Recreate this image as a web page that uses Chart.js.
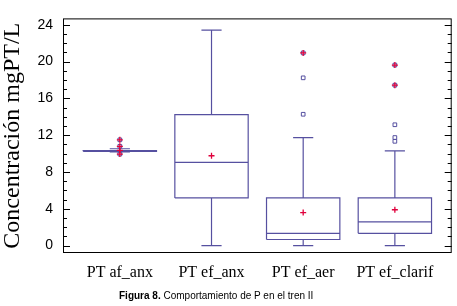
<!DOCTYPE html>
<html>
<head>
<meta charset="utf-8">
<script src="https://cdn.jsdelivr.net/npm/chart.js@4/dist/chart.umd.min.js"></script>
<style>
  html, body { margin: 0; padding: 0; background: #fff; }
  #wrap { position: relative; width: 457px; height: 306px; }
  #caption { position: absolute; left: 119px; top: 290px; font-family: 'Liberation Sans', Arial, sans-serif; font-size: 10px; line-height: 12px; color: #000; white-space: nowrap; }
</style>
</head>
<body>
<div id="wrap">
  <canvas id="c" width="457" height="306"></canvas>
  <div id="caption"><b>Figura 8.</b> Comportamiento de P en el tren II</div>
</div>
<script>
// ---- data ----
const categories = ['PT af_anx', 'PT ef_anx', 'PT ef_aer', 'PT ef_clarif'];
const whiskerLow  = [10.19, 0.0, 0.0, 0.0];
const q1          = [10.25, 5.19, 0.67, 1.34];
const median      = [10.30, 9.04, 1.34, 2.59];
const q3          = [10.33, 14.25, 5.19, 5.19];
const whiskerHigh = [10.53, 23.42, 11.75, 10.29];
const means       = [10.35, 9.77, 3.59, 3.90];
const outliers    = [[], [], [18.24, 14.28], [13.14, 11.75, 11.34]];
const farOutliers = [[11.5, 10.8, 9.95], [], [20.95], [19.63, 17.44]];
const yTicks = [0, 4, 8, 12, 16, 20, 24];

const boxColor = '#5650a0';
const redColor = '#e0003c';

function boxPoints() {
  const pts = [];
  const h = 0.4, cap = 0.11;
  categories.forEach((c, i) => {
    const x = i + 1;
    pts.push({x: x - h, y: q1[i]}, {x: x + h, y: q1[i]}, {x: x + h, y: q3[i]}, {x: x - h, y: q3[i]}, {x: x - h, y: q1[i]}, {x: x, y: null});
    pts.push({x: x - h, y: median[i]}, {x: x + h, y: median[i]}, {x: x, y: null});
    pts.push({x: x, y: q3[i]}, {x: x, y: whiskerHigh[i]}, {x: x, y: null});
    pts.push({x: x - cap, y: whiskerHigh[i]}, {x: x + cap, y: whiskerHigh[i]}, {x: x, y: null});
    pts.push({x: x, y: q1[i]}, {x: x, y: whiskerLow[i]}, {x: x, y: null});
    pts.push({x: x - cap, y: whiskerLow[i]}, {x: x + cap, y: whiskerLow[i]}, {x: x, y: null});
  });
  return pts;
}
const meanPoints = means.map((v, i) => ({x: i + 1, y: v}));
const outPoints = [];
outliers.forEach((arr, i) => arr.forEach(v => outPoints.push({x: i + 1, y: v})));
const farPoints = [];
farOutliers.forEach((arr, i) => arr.forEach(v => farPoints.push({x: i + 1, y: v})));

const framePlugin = {
  id: 'frame',
  afterDraw(chart) {
    const {ctx, chartArea: {left, right, top, bottom}, scales: {y}} = chart;
    ctx.save();
    ctx.strokeStyle = '#000';
    ctx.lineWidth = 1;
    ctx.strokeRect(left + 0.5, top + 0.5, right - left - 1, bottom - top - 1);
    ctx.beginPath();
    for (let v = 0; v <= 24; v++) {
      const py = Math.round(y.getPixelForValue(v)) + 0.5;
      const len = v % 4 === 0 ? 7 : 4;
      ctx.moveTo(left, py); ctx.lineTo(left + len, py);
      ctx.moveTo(right, py); ctx.lineTo(right - len, py);
    }
    ctx.stroke();
    ctx.restore();
  }
};

new Chart(document.getElementById('c'), {
  type: 'scatter',
  data: {
    datasets: [
      { data: farPoints, pointStyle: 'cross', pointRadius: 3, borderColor: redColor, borderWidth: 1.3, showLine: false },
      { data: meanPoints, pointStyle: 'cross', pointRadius: 3, borderColor: redColor, borderWidth: 1.3, showLine: false },
      { data: farPoints, pointStyle: 'rect', pointRadius: 2.6, borderColor: boxColor, backgroundColor: 'rgba(255,255,255,0)', borderWidth: 1, showLine: false },
      { data: outPoints, pointStyle: 'rect', pointRadius: 2.6, borderColor: boxColor, backgroundColor: 'rgba(255,255,255,0)', borderWidth: 1, showLine: false },
      { data: boxPoints(), showLine: true, spanGaps: false, pointRadius: 0, borderColor: boxColor, borderWidth: 1.2, tension: 0 }
    ]
  },
  options: {
    responsive: false,
    devicePixelRatio: 1,
    animation: false,
    layout: { padding: { top: 8, right: 5, left: 0, bottom: 0 } },
    plugins: { legend: { display: false }, tooltip: { enabled: false } },
    scales: {
      x: {
        type: 'linear', min: 0.38, max: 4.62,
        grid: { display: false, drawTicks: false },
        border: { display: false },
        afterBuildTicks: s => { s.ticks = categories.map((c, i) => ({value: i + 1})); },
        afterFit: s => { s.height = 53; },
        ticks: {
          callback: v => categories[v - 1] ?? '',
          font: { family: 'Liberation Serif', size: 16 },
          color: '#000', padding: 10, maxRotation: 0, autoSkip: false
        }
      },
      y: {
        type: 'linear', min: -0.8, max: 24.7,
        grid: { display: false, drawTicks: false },
        border: { display: false },
        afterBuildTicks: s => { s.ticks = yTicks.map(v => ({value: v})); },
        afterFit: s => { s.width = 63; },
        ticks: {
          font: { family: 'Liberation Sans', size: 14 },
          color: '#000', padding: 10
        },
        title: {
          display: true, text: 'Concentración mgPT/L',
          font: { family: 'Liberation Serif', size: 24, lineHeight: 1.05 },
          color: '#000', padding: 0
        }
      }
    }
  },
  plugins: [framePlugin]
});
</script>
</body>
</html>
